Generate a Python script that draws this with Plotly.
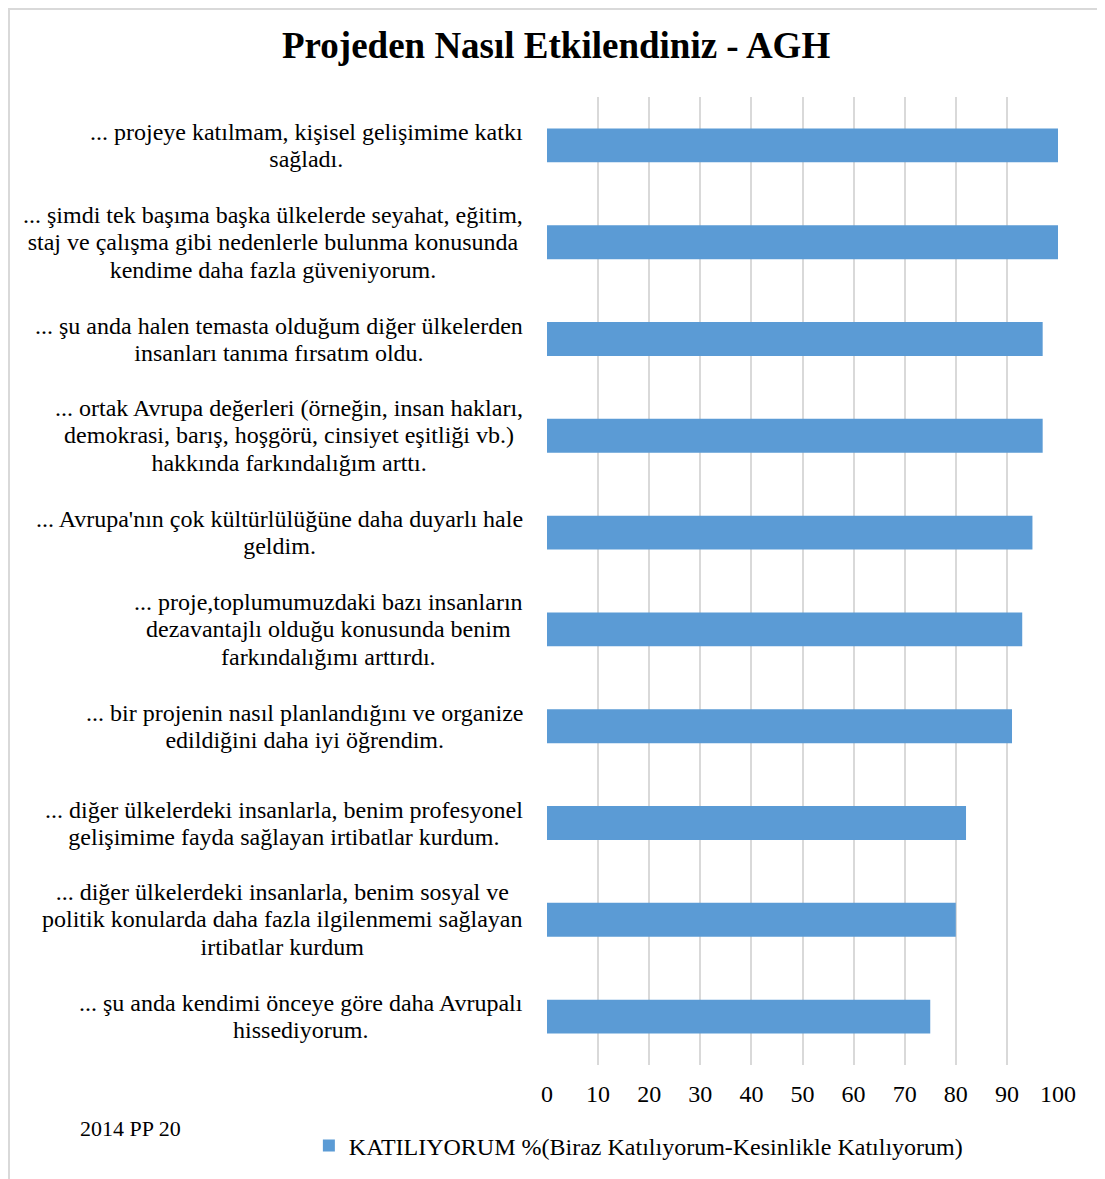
import plotly.graph_objects as go

categories = [
    "... projeye katılmam, kişisel gelişimime katkı<br>sağladı.",
    "... şimdi tek başıma başka ülkelerde seyahat, eğitim,<br>staj ve çalışma gibi nedenlerle bulunma konusunda<br>kendime daha fazla güveniyorum.",
    "... şu anda halen temasta olduğum diğer ülkelerden<br>insanları tanıma fırsatım oldu.",
    "... ortak Avrupa değerleri (örneğin, insan hakları,<br>demokrasi, barış, hoşgörü, cinsiyet eşitliği vb.)<br>hakkında farkındalığım arttı.",
    "... Avrupa'nın çok kültürlülüğüne daha duyarlı hale<br>geldim.",
    "... proje,toplumumuzdaki bazı insanların<br>dezavantajlı olduğu konusunda benim<br>farkındalığımı arttırdı.",
    "... bir projenin nasıl planlandığını ve organize<br>edildiğini daha iyi öğrendim.",
    "... diğer ülkelerdeki insanlarla, benim profesyonel<br>gelişimime fayda sağlayan irtibatlar kurdum.",
    "... diğer ülkelerdeki insanlarla, benim sosyal ve<br>politik konularda daha fazla ilgilenmemi sağlayan<br>irtibatlar kurdum",
    "... şu anda kendimi önceye göre daha Avrupalı<br>hissediyorum.",
]
values = [100, 100, 97, 97, 95, 93, 91, 82, 80, 75]
series_name = "KATILIYORUM %(Biraz Katılıyorum-Kesinlikle Katılıyorum)"
title_text = "Projeden Nasıl Etkilendiniz - AGH"
footer_text = "2014 PP 20"
x_ticks = [0, 10, 20, 30, 40, 50, 60, 70, 80, 90, 100]

FONT = "Liberation Serif, Times New Roman, serif"
BAR_COLOR = "#5B9BD5"
GRID_COLOR = "#D9D9D9"


def label_markup(cat):
    # larger glyphs with tighter line spacing (base size controls spacing)
    return "<br>".join("<span style='font-size:24px'>" + part + "</span>"
                       for part in cat.split("<br>"))


fig = go.Figure()
fig.add_trace(go.Bar(
    y=categories,
    x=values,
    orientation="h",
    name=series_name,
    marker=dict(color=BAR_COLOR, line=dict(width=0)),
    showlegend=True,
))

annotations = []
for cat in categories:
    annotations.append(dict(
        x=-0.043, xref="paper", y=cat, yref="y",
        text=label_markup(cat), showarrow=False, xanchor="right", yanchor="middle",
        align="center", font=dict(family=FONT, size=21, color="#000000"),
    ))
annotations.append(dict(
    x=-0.918, xref="paper", y=-0.066, yref="paper",
    text=footer_text, showarrow=False, xanchor="left", yanchor="middle",
    font=dict(family=FONT, size=22, color="#000000"),
))

W, H = 1105, 1179
L, R, T, B = 539, 55, 89, 122

fig.update_layout(
    width=W, height=H,
    margin=dict(l=L, r=R, t=T, b=B),
    paper_bgcolor="white", plot_bgcolor="white",
    font=dict(family=FONT, color="#000000"),
    title=dict(text="<b>" + title_text + "</b>", x=0.496, xanchor="center",
               y=1 - 37 / H, yanchor="middle",
               font=dict(family=FONT, size=37, color="#000000")),
    bargap=0.65,
    showlegend=True,
    legend=dict(orientation="h", x=-0.466, xanchor="left", y=-0.0837, yanchor="middle",
                font=dict(family=FONT, size=24, color="#000000"),
                bgcolor="rgba(0,0,0,0)"),
    annotations=annotations,
    shapes=[dict(type="rect", xref="paper", yref="paper",
                 x0=(1 - L) / 511, x1=(1096 - L) / 511,
                 y0=(H - B - (H + 5)) / 968, y1=(H - B - 1) / 968,
                 line=dict(color="#D9D9D9", width=2), fillcolor="rgba(0,0,0,0)",
                 layer="below")],
)
fig.update_xaxes(range=[0, 100], tickvals=x_ticks, ticktext=[str(t) for t in x_ticks],
                 showgrid=True, gridcolor=GRID_COLOR, gridwidth=1.5,
                 zeroline=False, showline=False, ticks="",
                 tickfont=dict(family=FONT, size=24, color="#000000"),
                 ticklabelstandoff=12)
fig.update_yaxes(type="category", autorange="reversed", showticklabels=False,
                 showgrid=False, zeroline=False, showline=False, ticks="")

fig.write_html("out.html")
